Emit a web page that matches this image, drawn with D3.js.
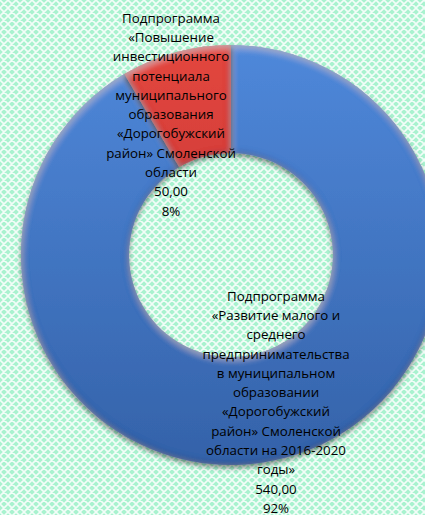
<!DOCTYPE html>
<html>
<head>
<meta charset="utf-8">
<script src="https://cdn.jsdelivr.net/npm/d3@7/dist/d3.min.js"></script>
<style>
  html, body { margin: 0; padding: 0; background: #fff; }
  svg { display: block; }
</style>
</head>
<body>
<div id="chart"></div>
<script>
// Budget split between two sub-programmes (thousand roubles)
const categories = [
  ["Подпрограмма", "«Развитие малого и", "среднего", "предпринимательства", "в муниципальном", "образовании", "«Дорогобужский", "район» Смоленской", "области на 2016-2020", "годы»"],
  ["Подпрограмма", "«Повышение", "инвестиционного", "потенциала", "муниципального", "образования", "«Дорогобужский", "район» Смоленской", "области"]
];
const values = [540, 50];
const colors = [["#4f88da", "#3462a9"], ["#e3463f", "#b5302b"]];

const W = 425, H = 515;
const cx = 231, cy = 255, rOuter = 210, rInner = 102;

const svg = d3.select("#chart").append("svg").attr("width", W).attr("height", H);
const defs = svg.append("defs");

// Mint background with a white diagonal lattice
const pat = defs.append("pattern").attr("id", "lattice")
  .attr("width", 8).attr("height", 8).attr("patternUnits", "userSpaceOnUse");
pat.append("rect").attr("width", 8).attr("height", 8).attr("fill", "#a9f2cf");
pat.append("path").attr("d", "M0,0L8,8M8,0L0,8M-1,7L1,9M7,-1L9,1M-1,1L1,-1M7,9L9,7")
  .attr("stroke", "#ffffff").attr("stroke-width", 1.6).attr("stroke-opacity", 0.85);
svg.append("rect").attr("width", W).attr("height", H).attr("fill", "url(#lattice)");

// Vertical gradient per slice colour (group frame: centre at origin)
colors.forEach((c, i) => {
  const g = defs.append("linearGradient").attr("id", "grad" + i)
    .attr("gradientUnits", "userSpaceOnUse")
    .attr("x1", 0).attr("y1", -rOuter).attr("x2", 0).attr("y2", rOuter);
  g.append("stop").attr("offset", 0).attr("stop-color", c[0]);
  g.append("stop").attr("offset", 1).attr("stop-color", c[1]);
});

// Bevel: darkened rims, a light top edge and a soft drop shadow
const f = defs.append("filter").attr("id", "bevel")
  .attr("x", "-10%").attr("y", "-10%").attr("width", "120%").attr("height", "125%");
f.append("feGaussianBlur").attr("in", "SourceAlpha").attr("stdDeviation", 3.5).attr("result", "blur");
f.append("feComposite").attr("in", "SourceAlpha").attr("in2", "blur").attr("operator", "out").attr("result", "rim");
f.append("feFlood").attr("flood-color", "#0b1f45").attr("flood-opacity", 0.85).attr("result", "dark");
f.append("feComposite").attr("in", "dark").attr("in2", "rim").attr("operator", "in").attr("result", "darkRim");
f.append("feOffset").attr("in", "blur").attr("dx", 1).attr("dy", 3).attr("result", "blurOff");
f.append("feComposite").attr("in", "SourceAlpha").attr("in2", "blurOff").attr("operator", "out").attr("result", "topRim");
f.append("feFlood").attr("flood-color", "#ffffff").attr("flood-opacity", 0.35).attr("result", "light");
f.append("feComposite").attr("in", "light").attr("in2", "topRim").attr("operator", "in").attr("result", "lightRim");
f.append("feGaussianBlur").attr("in", "SourceAlpha").attr("stdDeviation", 2.5).attr("result", "sh");
f.append("feOffset").attr("in", "sh").attr("dx", 0).attr("dy", 3).attr("result", "shOff");
f.append("feComponentTransfer").attr("in", "shOff").attr("result", "shadow")
  .append("feFuncA").attr("type", "linear").attr("slope", 0.45);
const m = f.append("feMerge");
m.append("feMergeNode").attr("in", "shadow");
m.append("feMergeNode").attr("in", "SourceGraphic");
m.append("feMergeNode").attr("in", "darkRim");
m.append("feMergeNode").attr("in", "lightRim");

const pie = d3.pie().sort(null).value(d => d)(values);
const arc = d3.arc().innerRadius(rInner).outerRadius(rOuter);

svg.append("g").attr("transform", `translate(${cx},${cy})`)
  .selectAll("path").data(pie).join("path")
  .attr("d", arc)
  .attr("fill", (d, i) => `url(#grad${i})`)
  .attr("filter", "url(#bevel)");

// Data labels: name, value, share
const total = d3.sum(values);
const fmtVal = v => d3.format(".2f")(v).replace(".", ",");
const fmtPct = v => d3.format(".0%")(v / total);

const labelPos = [{x: 276, y: 296}, {x: 171, y: 18}];
const lineH = 19.3;

pie.forEach((p, i) => {
  const lines = categories[i].concat([fmtVal(values[i]), fmtPct(values[i])]);
  const t = svg.append("text")
    .attr("text-anchor", "middle")
    .attr("font-family", "'Open Sans', 'Noto Sans', sans-serif")
    .attr("font-size", 13.3)
    .attr("fill", "#000");
  lines.forEach((s, j) => {
    t.append("tspan").attr("x", labelPos[i].x).attr("y", labelPos[i].y + j * lineH)
      .attr("dy", "0.35em").text(s);
  });
});
</script>
</body>
</html>
